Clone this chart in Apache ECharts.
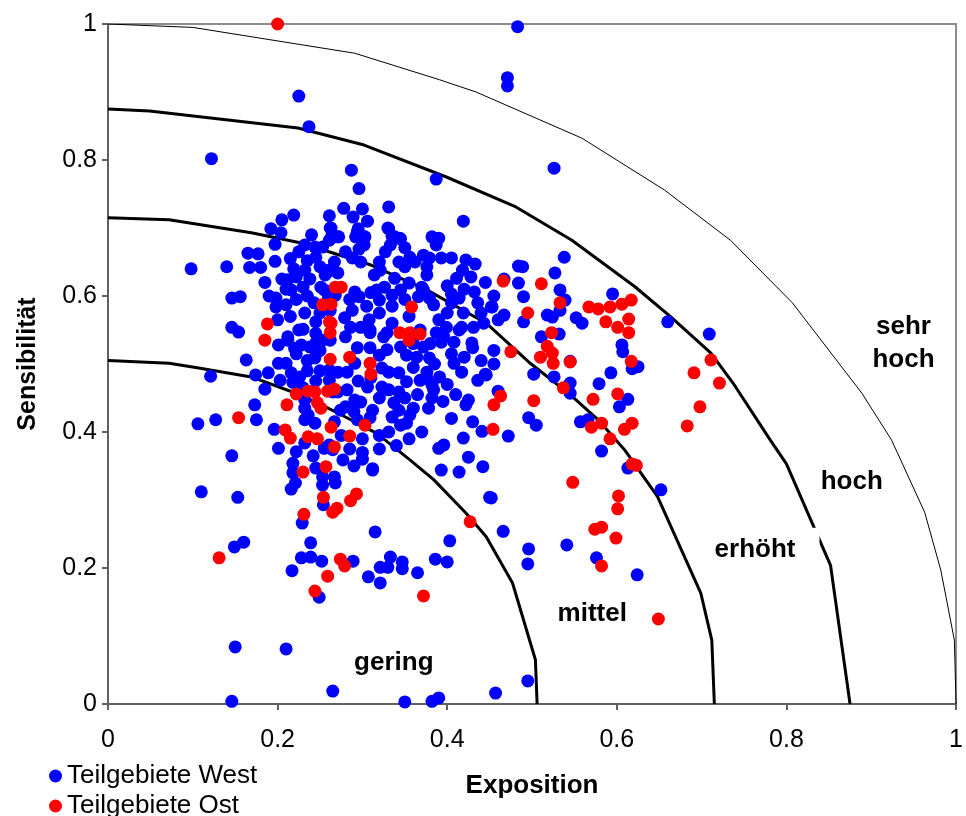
<!DOCTYPE html>
<html>
<head>
<meta charset="UTF-8">
<title>Sensibilität / Exposition</title>
<script src="https://cdn.jsdelivr.net/npm/echarts/dist/echarts.min.js"></script>
</head>
<body style="margin:0; background:#fff;">
<div id="container" style="width:966px; height:816px;"></div>
<script type="text/javascript">
// Teilgebiete West (blau): [Exposition, Sensibilität]
var west = [
    [0.483,0.996],[0.471,0.921],[0.471,0.909],[0.225,0.894],[0.237,0.849],[0.122,0.802],[0.287,0.785],[0.296,0.758],[0.387,0.772],[0.526,0.788],
    [0.419,0.710],[0.331,0.731],[0.278,0.729],[0.300,0.728],[0.261,0.718],[0.289,0.716],[0.306,0.710],[0.219,0.719],[0.205,0.712],[0.192,0.699],
    [0.204,0.693],[0.240,0.690],[0.263,0.700],[0.264,0.688],[0.272,0.687],[0.295,0.699],[0.292,0.687],[0.302,0.687],[0.330,0.700],[0.335,0.688],
    [0.344,0.685],[0.382,0.687],[0.390,0.685],
    [0.261,0.682],[0.197,0.676],[0.232,0.675],[0.244,0.672],[0.165,0.663],[0.177,0.662],[0.197,0.651],[0.098,0.640],[0.140,0.643],[0.167,0.642],
    [0.180,0.642],[0.219,0.640],[0.232,0.638],[0.245,0.657],[0.250,0.643],[0.256,0.631],[0.259,0.635],[0.267,0.650],[0.253,0.672],[0.212,0.624],
    [0.210,0.610],[0.216,0.609],[0.230,0.613],[0.251,0.613],[0.255,0.609],[0.146,0.597],[0.156,0.599],[0.198,0.597],[0.198,0.584],[0.210,0.587],
    [0.243,0.590],[0.268,0.601],[0.245,0.562],[0.146,0.554],[0.154,0.547],[0.212,0.540],[0.230,0.551],
    [0.262,0.700],[0.271,0.687],[0.294,0.694],[0.303,0.687],[0.331,0.699],[0.338,0.687],[0.345,0.684],[0.384,0.685],[0.387,0.675],[0.280,0.665],
    [0.296,0.669],[0.302,0.675],[0.288,0.656],[0.298,0.650],[0.327,0.665],[0.333,0.675],[0.350,0.671],[0.356,0.657],[0.343,0.650],[0.350,0.643],
    [0.362,0.650],[0.372,0.660],[0.379,0.656],[0.376,0.643],[0.393,0.656],[0.405,0.656],[0.422,0.653],[0.433,0.647],[0.418,0.638],[0.411,0.626],
    [0.428,0.628],[0.376,0.631],[0.314,0.631],[0.321,0.638],[0.320,0.650],[0.338,0.626],[0.355,0.619],[0.370,0.613],[0.271,0.634],[0.260,0.638],
    [0.317,0.609],[0.326,0.613],[0.335,0.601],[0.291,0.606],[0.296,0.599],[0.320,0.594],[0.345,0.609],[0.366,0.599],[0.372,0.609],[0.379,0.597],
    [0.384,0.587],[0.405,0.603],[0.414,0.597],[0.432,0.606],[0.436,0.590],[0.452,0.584],[0.405,0.590],[0.419,0.575],[0.399,0.554],[0.417,0.554],
    [0.431,0.554],[0.443,0.560],[0.335,0.560],[0.320,0.575],[0.308,0.565],[0.279,0.568],[0.288,0.579],[0.262,0.579],[0.286,0.554],[0.298,0.554],
    [0.309,0.546],[0.329,0.546],[0.368,0.550],[0.387,0.546],[0.396,0.540],
    [0.201,0.528],[0.212,0.535],[0.220,0.523],[0.228,0.528],[0.238,0.525],[0.245,0.531],[0.253,0.535],[0.244,0.509],[0.163,0.506],[0.201,0.501],
    [0.210,0.501],[0.189,0.487],[0.203,0.476],[0.216,0.487],[0.226,0.481],[0.218,0.473],[0.121,0.482],[0.174,0.484],[0.185,0.463],[0.261,0.491],
    [0.261,0.476],[0.232,0.447],[0.232,0.435],[0.236,0.425],[0.173,0.440],[0.106,0.412],[0.127,0.418],[0.175,0.418],[0.196,0.404],[0.232,0.418],
    [0.244,0.413],[0.232,0.384],[0.201,0.376],[0.222,0.371],[0.242,0.365],[0.255,0.376],[0.146,0.365],[0.218,0.354],[0.245,0.347],[0.218,0.340],
    [0.253,0.334],
    [0.309,0.550],[0.325,0.540],[0.280,0.540],[0.262,0.535],[0.294,0.524],[0.309,0.524],[0.320,0.513],[0.329,0.521],[0.352,0.513],[0.364,0.510],
    [0.379,0.509],[0.372,0.525],[0.393,0.532],[0.408,0.532],[0.429,0.531],[0.414,0.550],[0.263,0.488],[0.271,0.488],[0.282,0.488],[0.291,0.501],
    [0.323,0.494],[0.331,0.488],[0.343,0.487],[0.352,0.474],[0.368,0.476],[0.376,0.488],[0.376,0.479],[0.382,0.469],[0.391,0.481],[0.408,0.501],
    [0.417,0.488],[0.430,0.524],[0.436,0.476],[0.446,0.484],[0.306,0.466],[0.323,0.466],[0.331,0.462],[0.343,0.459],[0.282,0.462],[0.265,0.459],
    [0.271,0.459],[0.291,0.447],[0.298,0.444],[0.280,0.437],[0.274,0.432],[0.312,0.432],[0.337,0.443],[0.343,0.432],[0.335,0.422],[0.360,0.435],
    [0.356,0.425],[0.352,0.413],[0.384,0.462],[0.382,0.450],[0.378,0.435],[0.425,0.447],[0.422,0.440],[0.309,0.421],[0.267,0.415],[0.294,0.418],
    [0.331,0.400],[0.261,0.381],[0.265,0.374],[0.277,0.359],[0.390,0.376],[0.396,0.381],[0.419,0.391],[0.441,0.401],[0.425,0.363],[0.312,0.346],
    [0.393,0.344],[0.414,0.341],[0.442,0.349],[0.267,0.334],
    [0.215,0.655],[0.225,0.665],[0.235,0.652],[0.222,0.628],[0.238,0.625],[0.205,0.625],[0.185,0.620],[0.190,0.600],[0.222,0.595],[0.235,0.600],
    [0.260,0.598],[0.250,0.575],[0.232,0.575],[0.215,0.570],[0.200,0.565],[0.225,0.550],[0.245,0.545],[0.222,0.515],[0.235,0.505],[0.250,0.520],
    [0.250,0.490],[0.235,0.490],[0.245,0.475],[0.230,0.465],
    [0.285,0.595],[0.305,0.585],[0.310,0.605],[0.335,0.585],[0.350,0.595],[0.355,0.570],[0.345,0.525],[0.360,0.530],[0.380,0.530],[0.385,0.500],
    [0.360,0.495],[0.350,0.450],[0.365,0.455],[0.320,0.450],[0.310,0.480],[0.295,0.475],[0.320,0.395],[0.300,0.390],[0.285,0.375],[0.300,0.370],
    [0.320,0.375],[0.340,0.380],[0.355,0.390],[0.370,0.400],[0.345,0.410],[0.290,0.430],[0.275,0.395],[0.290,0.350],[0.300,0.360],
    [0.400,0.615],[0.420,0.610],[0.445,0.620],[0.455,0.600],[0.440,0.575],[0.460,0.565],[0.400,0.575],[0.390,0.565],[0.405,0.515],[0.420,0.510],
    [0.440,0.505],[0.455,0.520],[0.400,0.470],[0.410,0.455],[0.395,0.445],[0.405,0.420],[0.430,0.415],[0.460,0.460],[0.455,0.500],
    [0.538,0.657],[0.484,0.644],[0.489,0.643],[0.527,0.634],[0.467,0.625],[0.484,0.619],[0.533,0.609],[0.490,0.599],[0.539,0.594],[0.453,0.584],
    [0.467,0.572],[0.490,0.562],[0.518,0.572],[0.524,0.569],[0.533,0.579],[0.552,0.568],[0.559,0.560],[0.595,0.603],[0.660,0.562],[0.709,0.544],
    [0.511,0.540],[0.532,0.544],[0.606,0.528],[0.607,0.518],[0.545,0.504],[0.618,0.493],[0.625,0.496],[0.445,0.485],[0.502,0.485],[0.526,0.481],
    [0.545,0.472],[0.545,0.457],[0.593,0.487],[0.579,0.471],[0.613,0.448],[0.603,0.437],[0.496,0.421],[0.505,0.410],[0.472,0.394],[0.557,0.415],
    [0.566,0.418],[0.582,0.372],
    [0.312,0.344],[0.450,0.304],[0.110,0.312],[0.153,0.304],[0.221,0.325],[0.216,0.316],[0.253,0.322],[0.268,0.325],[0.254,0.293],[0.229,0.266],
    [0.315,0.253],[0.403,0.240],[0.149,0.231],[0.160,0.238],[0.239,0.237],[0.228,0.215],[0.239,0.216],[0.252,0.210],[0.217,0.196],[0.289,0.210],
    [0.249,0.157],[0.307,0.187],[0.321,0.201],[0.321,0.178],[0.333,0.216],[0.347,0.209],[0.330,0.201],[0.347,0.199],[0.365,0.193],[0.386,0.213],
    [0.400,0.209],[0.150,0.084],[0.210,0.081],[0.265,0.019],[0.146,0.004],[0.350,0.003],[0.382,0.004],[0.390,0.009],[0.457,0.016],
    [0.613,0.347],[0.652,0.315],[0.452,0.303],[0.466,0.254],[0.496,0.228],[0.495,0.206],[0.541,0.234],[0.576,0.215],[0.624,0.190],[0.495,0.034]
];

// Teilgebiete Ost (rot)
var ost = [
    [0.200,1.000],[0.268,0.613],[0.253,0.587],[0.263,0.588],[0.188,0.559],[0.261,0.562],[0.185,0.535],[0.262,0.546],[0.275,0.613],[0.358,0.584],
    [0.344,0.546],[0.356,0.546],[0.368,0.544],[0.263,0.560],[0.262,0.507],[0.222,0.456],[0.236,0.460],[0.244,0.459],[0.259,0.460],[0.267,0.463],
    [0.247,0.443],[0.251,0.435],[0.211,0.440],[0.154,0.421],[0.209,0.403],[0.215,0.391],[0.263,0.407],[0.236,0.393],[0.247,0.390],[0.267,0.378],
    [0.257,0.349],[0.230,0.341],[0.355,0.535],[0.285,0.510],[0.309,0.501],[0.310,0.485],[0.455,0.440],[0.303,0.410],[0.285,0.394],[0.454,0.404],
    [0.466,0.622],[0.511,0.618],[0.533,0.590],[0.495,0.575],[0.567,0.584],[0.578,0.581],[0.592,0.584],[0.606,0.588],[0.617,0.594],[0.587,0.562],
    [0.601,0.554],[0.614,0.566],[0.614,0.546],[0.523,0.546],[0.518,0.526],[0.524,0.516],[0.510,0.510],[0.525,0.501],[0.475,0.518],[0.545,0.503],
    [0.617,0.504],[0.711,0.506],[0.691,0.487],[0.721,0.472],[0.537,0.465],[0.601,0.456],[0.463,0.453],[0.502,0.446],[0.572,0.448],[0.570,0.407],
    [0.582,0.413],[0.609,0.404],[0.618,0.413],[0.592,0.390],[0.698,0.437],[0.683,0.409],
    [0.254,0.304],[0.286,0.299],[0.293,0.309],[0.265,0.282],[0.270,0.288],[0.231,0.279],[0.427,0.268],[0.131,0.215],[0.274,0.213],[0.279,0.203],
    [0.259,0.188],[0.244,0.166],[0.372,0.159],
    [0.623,0.351],[0.618,0.353],[0.548,0.326],[0.602,0.306],[0.601,0.287],[0.574,0.257],[0.582,0.260],[0.599,0.244],[0.582,0.203],[0.649,0.125]
];

// Klassengrenzen
var grenzeGering = [[0,0.505],[0.072,0.501],[0.107,0.494],[0.169,0.481],[0.228,0.454],[0.271,0.428],[0.317,0.398],[0.356,0.359],
    [0.384,0.330],[0.422,0.281],[0.446,0.246],[0.477,0.178],[0.504,0.065],[0.506,0]];
var grenzeMittel = [[0,0.715],[0.072,0.712],[0.169,0.693],[0.228,0.678],[0.309,0.646],[0.376,0.609],[0.446,0.560],[0.496,0.503],
    [0.543,0.457],[0.578,0.418],[0.609,0.374],[0.648,0.305],[0.699,0.163],[0.712,0.094],[0.715,0]];
var grenzeErhoeht = [[0,0.875],[0.049,0.872],[0.224,0.847],[0.302,0.822],[0.399,0.775],[0.481,0.731],[0.547,0.682],[0.621,0.614],
    [0.664,0.569],[0.711,0.516],[0.737,0.472],[0.781,0.388],[0.800,0.353],[0.852,0.204],[0.875,0]];
var grenzeHoch = [[0,1],[0.100,0.995],[0.291,0.957],[0.391,0.918],[0.434,0.900],[0.559,0.832],[0.656,0.756],[0.734,0.682],
    [0.807,0.590],[0.889,0.457],[0.924,0.388],[0.963,0.282],[0.982,0.197],[0.998,0.094],[1,0]];

// Beschriftung der Klassen
var klassen = [
    {name: 'gering', value: [0.337, 0.061]},
    {name: 'mittel', value: [0.571, 0.133]},
    {name: 'erhöht', value: [0.763, 0.226]},
    {name: 'hoch', value: [0.877, 0.326]},
    {name: 'sehr\nhoch', value: [0.938, 0.530]}
];

var fontFam = '"Liberation Sans", Arial, sans-serif';

var dom = document.getElementById("container");
var myChart = echarts.init(dom);

function grenze(data, width) {
    return {
        type: 'line',
        data: data,
        showSymbol: false,
        silent: true,
        z: 2,
        lineStyle: {color: '#000', width: width}
    };
}

var legendText = {fontSize: 26, color: '#000', fontFamily: fontFam};

var option = {
    animation: false,
    textStyle: {fontFamily: fontFam},
    grid: {
        left: 108, right: 1, top: 24, bottom: 112,
        show: true,
        borderColor: '#8c8c8c',
        borderWidth: 2
    },
    legend: [
        {data: ['Teilgebiete West'], left: 44, top: 758, itemWidth: 13, itemHeight: 13, icon: 'circle', textStyle: legendText},
        {data: ['Teilgebiete Ost'], left: 44, top: 788, itemWidth: 13, itemHeight: 13, icon: 'circle', textStyle: legendText}
    ],
    xAxis: {
        type: 'value',
        min: 0, max: 1, interval: 0.2,
        name: 'Exposition',
        nameLocation: 'middle',
        nameGap: 69,
        nameTextStyle: {fontSize: 26, fontWeight: 'bold', color: '#000', fontFamily: fontFam},
        axisLine: {lineStyle: {color: '#606060', width: 2}},
        axisTick: {show: true, length: 6, lineStyle: {color: '#606060', width: 2}},
        axisLabel: {fontSize: 25, color: '#000', margin: 24, fontFamily: fontFam},
        splitLine: {show: false}
    },
    yAxis: {
        type: 'value',
        min: 0, max: 1, interval: 0.2,
        name: 'Sensibilität',
        nameLocation: 'middle',
        nameGap: 67,
        nameRotate: 90,
        nameTextStyle: {fontSize: 25, fontWeight: 'bold', color: '#000', fontFamily: fontFam},
        axisLine: {lineStyle: {color: '#606060', width: 2}},
        axisTick: {show: true, length: 6, lineStyle: {color: '#606060', width: 2}},
        axisLabel: {fontSize: 25, color: '#000', margin: 11, fontFamily: fontFam},
        splitLine: {show: false}
    },
    series: [
        grenze(grenzeGering, 3),
        grenze(grenzeMittel, 3),
        grenze(grenzeErhoeht, 3),
        grenze(grenzeHoch, 1),
        {
            name: 'Teilgebiete West',
            type: 'scatter',
            symbolSize: 13,
            z: 3,
            itemStyle: {color: '#0000ff', opacity: 1},
            data: west
        },
        {
            name: 'Teilgebiete Ost',
            type: 'scatter',
            symbolSize: 13,
            z: 4,
            itemStyle: {color: '#ff0000', opacity: 1},
            data: ost
        }
    ]
};

myChart.setOption(option);

// Klassenbeschriftung als Text mit weissem Hintergrund
var texte = [];
for (var i = 0; i < klassen.length; i++) {
    var p = myChart.convertToPixel({gridIndex: 0}, klassen[i].value);
    var pad = klassen[i].name === 'erhöht' ? [10, 24, 2, 4] : [2, 4, 2, 4];
    texte.push({
        type: 'text',
        x: p[0] + (pad[1] - pad[3]) / 2,
        y: p[1],
        z: 100,
        silent: true,
        style: {
            text: klassen[i].name,
            font: 'bold 26px ' + fontFam,
            fill: '#000',
            align: 'center',
            verticalAlign: 'middle',
            lineHeight: 33,
            backgroundColor: '#fff',
            padding: pad
        }
    });
}
myChart.setOption({graphic: texte});
</script>
</body>
</html>
